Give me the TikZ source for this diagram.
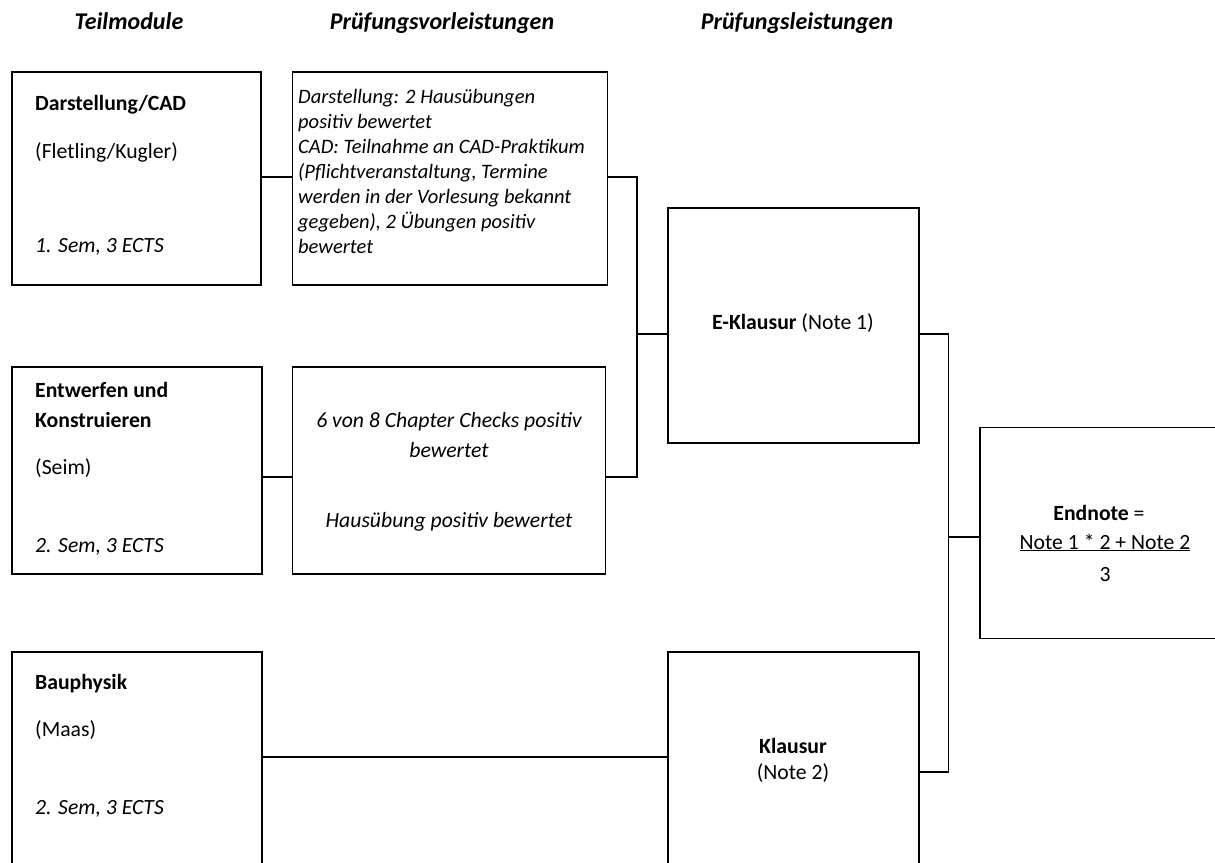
\documentclass[tikz,border=0pt]{standalone}
\usepackage{fontspec}
\setmainfont{Carlito}
\begin{document}
\begin{tikzpicture}[x=1pt,y=-1pt,
  box/.style={draw, line width=1.6pt, inner sep=0pt, rectangle},
  conn/.style={draw, line width=1.6pt},
  txt/.style={inner sep=0pt, anchor=base west, font=\fontsize{21.7}{26}\selectfont},
  itxt/.style={inner sep=0pt, anchor=base west, font=\fontsize{20.5}{25}\selectfont\itshape},
  ctxt/.style={inner sep=0pt, anchor=base, font=\fontsize{21.7}{26}\selectfont},
  head/.style={inner sep=0pt, anchor=base, font=\fontsize{24}{28}\selectfont\bfseries\itshape}
]
\useasboundingbox (0,0) rectangle (1215,862);
\clip (0,0) rectangle (1215,862);
\fill[white] (0,0) rectangle (1215,862);

% headers
\node[head] (h1) at (129,29) {Teilmodule};
\node[head] (h2) at (442,29) {Prüfungsvorleistungen};
\node[head] (h3) at (797,29) {Prüfungsleistungen};

% boxes
\node[box, minimum width=249pt, minimum height=213pt] (A) at (136.5,178.5) {};
\node[box, minimum width=315pt, minimum height=213pt] (B) at (450,178.5) {};
\node[box, minimum width=250pt, minimum height=207pt] (C) at (137,470.5) {};
\node[box, minimum width=313pt, minimum height=207pt] (D) at (449,470.5) {};
\node[box, minimum width=251pt, minimum height=235pt] (E) at (793.5,325.5) {};
\node[box, minimum width=240pt, minimum height=211pt] (F) at (1100,533) {};
\node[box, minimum width=250pt, minimum height=248pt] (G) at (137,776) {};
\node[box, minimum width=251pt, minimum height=248pt] (H) at (793.5,776) {};

% box A text
\node[txt] (a1) at (35,110) {\bfseries Darstellung/CAD};
\node[txt] (a2) at (35,158) {(Fletling/Kugler)};
\node[txt] (a3) at (35,252) {\itshape 1. Sem, 3 ECTS};

% box B text
\node[itxt] (b1) at (298,103) {Darstellung: 2 Hausübungen};
\node[itxt] (b2) at (298,128) {positiv bewertet};
\node[itxt] (b3) at (298,153) {CAD: Teilnahme an CAD-Praktikum};
\node[itxt] (b4) at (298,178) {(Pflichtveranstaltung, Termine};
\node[itxt] (b5) at (298,203) {werden in der Vorlesung bekannt};
\node[itxt] (b6) at (298,228) {gegeben), 2 Übungen positiv};
\node[itxt] (b7) at (298,253) {bewertet};

% box C text
\node[txt] (c1) at (35,397) {\bfseries Entwerfen und};
\node[txt] (c2) at (35,427) {\bfseries Konstruieren};
\node[txt] (c3) at (35,474) {(Seim)};
\node[txt] (c4) at (35,552) {\itshape 2. Sem, 3 ECTS};

% box D text
\node[ctxt, font=\fontsize{21.7}{26}\selectfont\itshape] (d1) at (449,427) {6 von 8 Chapter Checks positiv};
\node[ctxt, font=\fontsize{21.7}{26}\selectfont\itshape] (d2) at (449,457) {bewertet};
\node[ctxt, font=\fontsize{21.7}{26}\selectfont\itshape] (d3) at (449,527) {Hausübung positiv bewertet};

% box E text
\node[ctxt] (e1) at (793,329) {\textbf{E-Klausur} (Note 1)};

% box F text
\node[ctxt] (f1) at (1099,520) {\textbf{Endnote} =};
\node[ctxt] (f2) at (1105,549) {\underline{Note 1 * 2 + Note 2}};
\node[ctxt] (f3) at (1105,581) {3};

% box G text
\node[txt] (g1) at (35,689) {\bfseries Bauphysik};
\node[txt] (g2) at (35,736) {(Maas)};
\node[txt] (g3) at (35,814) {\itshape 2. Sem, 3 ECTS};

% box H text
\node[ctxt] (k1) at (793,753) {\bfseries Klausur};
\node[ctxt] (k2) at (793,779) {(Note 2)};

% connectors
\coordinate (j1) at (637,334);
\coordinate (j2) at (948.5,537);
\coordinate (yAB) at (0,177);
\coordinate (yCD) at (0,477);
\coordinate (yGH) at (0,757);
\coordinate (yH) at (0,772);

\draw[conn] (A.east |- yAB) -- (B.west |- yAB);
\draw[conn] (B.east |- yAB) -| (j1);
\draw[conn] (C.east |- yCD) -- (D.west |- yCD);
\draw[conn] (D.east |- yCD) -| (j1);
\draw[conn] (j1) -- (E.west |- j1);
\draw[conn] (E.east |- j1) -| (j2);
\draw[conn] (H.east |- yH) -| (j2);
\draw[conn] (j2) -- (F.west |- j2);
\draw[conn] (G.east |- yGH) -- (H.west |- yGH);
\end{tikzpicture}
\end{document}
